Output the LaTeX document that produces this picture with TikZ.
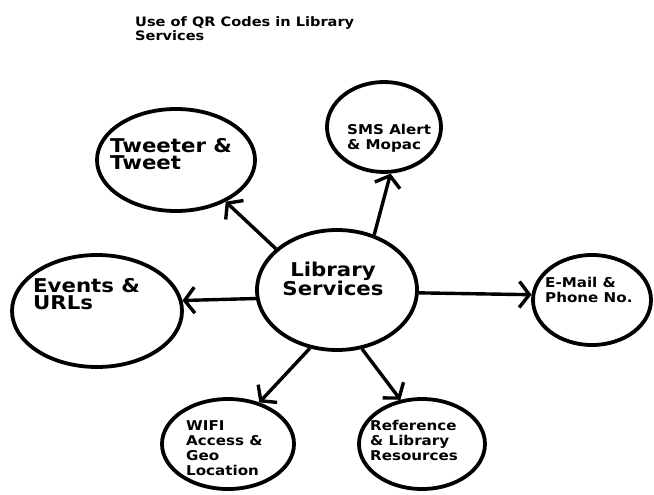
\documentclass[tikz,border=0pt]{standalone}
\usepackage{fontspec}
\setmainfont{DejaVu Sans}[FakeStretch=1.12]
\usetikzlibrary{shapes.geometric,arrows.meta}

\tikzset{
  circ/.style={draw, ellipse, line width=3.8pt, inner sep=0pt},
  link/.style={line width=3.4pt, -{Straight Barb[length=10pt,width=26pt]}},
  bigtxt/.style={anchor=north west, inner sep=0pt, align=left, font=\fontsize{19}{17.5}\selectfont\bfseries},
  smalltxt/.style={anchor=north west, inner sep=0pt, align=left, font=\fontsize{13.5}{15}\selectfont\bfseries}
}

\begin{document}
\begin{tikzpicture}[x=1pt,y=-1pt]
  \useasboundingbox[fill=white] (0,0) rectangle (654,495);
  % title
  \node[anchor=north west, inner sep=0pt, align=left, font=\fontsize{13}{14}\selectfont\bfseries] (title) at (135,16) {Use of QR Codes in Library\\Services};
  % the bubbles
  \node[circ, minimum width=158, minimum height=102] (tweet) at (176,160) {};
  \node[circ, minimum width=114, minimum height=90] (sms) at (384,127) {};
  \node[circ, minimum width=170, minimum height=112] (events) at (97,311) {};
  \node[circ, minimum width=160, minimum height=120] (lib) at (337,290) {};
  \node[circ, minimum width=118, minimum height=90] (mail) at (592,300) {};
  \node[circ, minimum width=132, minimum height=90] (wifi) at (228,444) {};
  \node[circ, minimum width=126, minimum height=90] (refres) at (422,444) {};
  % texts
  \node[bigtxt] (tweettxt) at (110,138) {Tweeter \&\\Tweet};
  \node[bigtxt] (eventstxt) at (33,278) {Events \&\\URLs};
  \node[bigtxt, anchor=north, align=center] (libtxt) at (333,261.5) {Library\\Services};
  \node[smalltxt] (smstxt) at (347,123.7) {SMS Alert\\\& Mopac};
  \node[smalltxt] (mailtxt) at (545,276.7) {E-Mail \&\\Phone No.};
  \node[smalltxt] (wifitxt) at (186,420) {WIFI\\Access \&\\Geo\\Location};
  \node[smalltxt] (refrestxt) at (370,419.7) {Reference\\\& Library\\Resources};
  % arrows
  \draw[link] (lib.146) -- (tweet.-40);
  \draw[link] (lib.56) -- (sms.278);
  \draw[link] (lib.186) -- (events.7);
  \draw[link] (lib.-2) -- (mail.175);
  \draw[link] (lib.245) -- (wifi.53);
  \draw[link] (lib.293) -- (refres.116);
\end{tikzpicture}
\end{document}
